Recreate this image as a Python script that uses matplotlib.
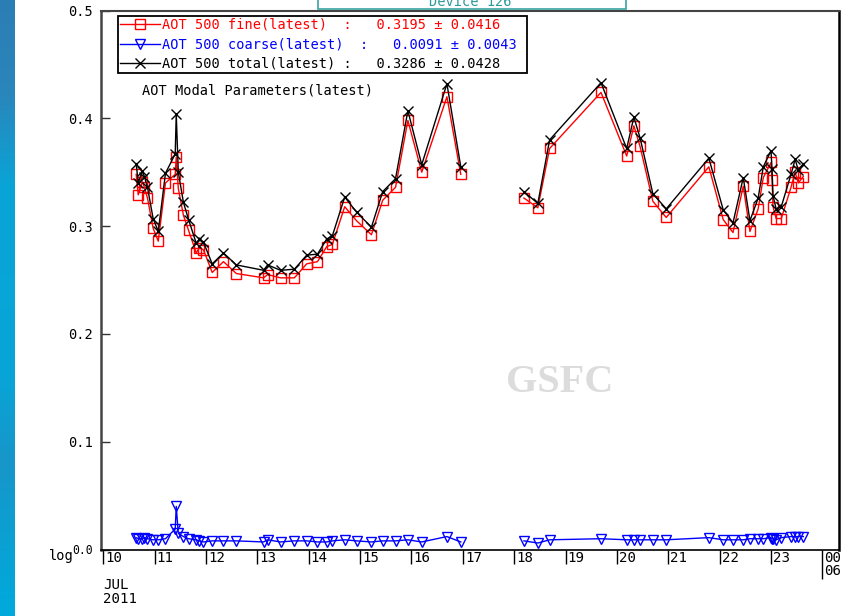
import numpy as np
import matplotlib
matplotlib.use("Agg")
import matplotlib.pyplot as plt
from matplotlib.colors import LinearSegmentedColormap
from matplotlib.patches import Rectangle

# ---- data: July 2011, day-of-month (fractional) ----
days = [10.64, 10.68, 10.76, 10.80, 10.86, 10.97, 11.07, 11.21, 11.40, 11.42,
        11.46, 11.56, 11.66, 11.81, 11.87, 11.95, 12.12, 12.34, 12.59, 13.12,
        13.20, 13.45, 13.72, 13.96, 14.17, 14.35, 14.46, 14.70, 14.93, 15.22,
        15.44, 15.69, 15.93, 16.20, 16.69, 16.96,
        18.19, 18.46, 18.69, 19.69, 20.19, 20.33, 20.45, 20.70, 20.96, 21.79,
        22.07, 22.26, 22.46, 22.59, 22.75, 22.85, 23.00, 23.02, 23.04, 23.10,
        23.20, 23.39, 23.47, 23.53, 23.63]

aot_fine = [0.348, 0.329, 0.341, 0.336, 0.326, 0.298, 0.286, 0.340, 0.348, 0.364,
            0.335, 0.310, 0.296, 0.275, 0.280, 0.278, 0.257, 0.267, 0.256, 0.252,
            0.255, 0.252, 0.252, 0.265, 0.267, 0.281, 0.283, 0.318, 0.305, 0.292,
            0.324, 0.336, 0.398, 0.350, 0.420, 0.348,
            0.326, 0.317, 0.372, 0.424, 0.365, 0.393, 0.374, 0.323, 0.308, 0.355,
            0.306, 0.294, 0.337, 0.295, 0.316, 0.345, 0.359, 0.343, 0.318, 0.307,
            0.307, 0.336, 0.350, 0.340, 0.346]

aot_coarse = [0.011, 0.010, 0.010, 0.011, 0.010, 0.009, 0.009, 0.010, 0.019, 0.040,
              0.015, 0.012, 0.010, 0.009, 0.008, 0.007, 0.008, 0.008, 0.008, 0.007,
              0.009, 0.007, 0.008, 0.008, 0.007, 0.007, 0.008, 0.009, 0.008, 0.007,
              0.008, 0.008, 0.009, 0.007, 0.012, 0.007,
              0.008, 0.006, 0.009, 0.010, 0.009, 0.009, 0.009, 0.009, 0.009, 0.011,
              0.009, 0.009, 0.009, 0.010, 0.010, 0.010, 0.011, 0.010, 0.010, 0.009,
              0.011, 0.012, 0.012, 0.012, 0.012]

aot_total = [0.358, 0.340, 0.351, 0.346, 0.336, 0.307, 0.295, 0.349, 0.367, 0.404,
             0.350, 0.322, 0.306, 0.284, 0.288, 0.285, 0.265, 0.275, 0.264, 0.259,
             0.264, 0.259, 0.260, 0.273, 0.274, 0.288, 0.291, 0.327, 0.313, 0.299,
             0.332, 0.344, 0.407, 0.357, 0.432, 0.355,
             0.332, 0.321, 0.380, 0.433, 0.372, 0.401, 0.382, 0.330, 0.316, 0.363,
             0.315, 0.303, 0.345, 0.305, 0.326, 0.355, 0.370, 0.353, 0.328, 0.316,
             0.318, 0.348, 0.362, 0.352, 0.358]

tick_days = list(range(10, 25))
tick_labels = [str(d) for d in range(10, 24)] + ["00\n06"]
y_ticks = [0.0, 0.1, 0.2, 0.3, 0.4, 0.5]
y_labels = ["0.0", "0.1", "0.2", "0.3", "0.4", "0.5"]

legend_labels = ["AOT 500 fine(latest)  :   0.3195 \u00b1 0.0416",
                 "AOT 500 coarse(latest)  :   0.0091 \u00b1 0.0043 ",
                 "AOT 500 total(latest) :   0.3286 \u00b1 0.0428"]

MONO = "DejaVu Sans Mono"
FS = 9.85
W, H = 852, 616


def with_gaps(x, y, max_gap=1.0):
    """Insert NaN between observations separated by more than max_gap days."""
    xs, ys = [x[0]], [y[0]]
    for i in range(1, len(x)):
        if x[i] - x[i - 1] > max_gap:
            xs.append(np.nan)
            ys.append(np.nan)
        xs.append(x[i])
        ys.append(y[i])
    return np.array(xs), np.array(ys)


fig = plt.figure(figsize=(W / 100, H / 100), dpi=100)
fig.patch.set_facecolor("white")

# decorative blue strip on the left edge
strip = fig.add_axes([0, 0, 15 / W, 1])
cmap = LinearSegmentedColormap.from_list(
    "strip", [(0.0, "#2c7eb4"), (0.15, "#2a86bb"), (0.3, "#0aa4d6"),
              (0.6, "#07a6d8"), (0.75, "#1796c9"), (1.0, "#00aadc")])
strip.imshow(np.linspace(0, 1, 256).reshape(-1, 1), aspect="auto", cmap=cmap)
strip.set_axis_off()

ax = fig.add_axes([101 / W, 1 - 549.5 / H, (839 - 101) / W, (549.5 - 10.5) / H])

x_f, y_f = with_gaps(days, aot_fine)
x_c, y_c = with_gaps(days, aot_coarse)
x_t, y_t = with_gaps(days, aot_total)

l_fine, = ax.plot(x_f, y_f, color="red", lw=1.0, marker="s", ms=7, mfc="none",
                  mec="red", mew=1.0, label=legend_labels[0])
l_coarse, = ax.plot(x_c, y_c, color="blue", lw=1.0, marker="v", ms=6.5, mfc="none",
                    mec="blue", mew=1.0, label=legend_labels[1])
l_total, = ax.plot(x_t, y_t, color="black", lw=1.0, marker="x", ms=7,
                   mew=1.0, label=legend_labels[2])

ax.set_xlim(9.955, 24.324)
ax.set_ylim(0, 0.5)

# axes frame
for side, col, lw in [("left", "#444444", 1.8), ("top", "#444444", 1.5),
                      ("right", "black", 1.8), ("bottom", "black", 1.2)]:
    ax.spines[side].set_color(col)
    ax.spines[side].set_linewidth(lw)

ax.set_yticks(y_ticks)
ax.set_yticklabels(y_labels, fontfamily=MONO, fontsize=FS)
ax.get_yticklabels()[0].set_fontsize(8.3)
ax.tick_params(axis="y", direction="in", length=6.5, width=1.0, pad=6,
               color="#333333")

ax.set_xticks(tick_days)
ax.set_xticklabels([])
ax.tick_params(axis="x", direction="out", length=10, width=1.0, color="black")
ax.xaxis.get_major_ticks()[-1].tick1line.set_markersize(21)
for d, lbl in zip(tick_days, tick_labels):
    ax.annotate(lbl, xy=(d, 0), xycoords=("data", "axes fraction"),
                xytext=(2, -1), textcoords="offset pixels", ha="left", va="top",
                fontfamily=MONO, fontsize=10.2, linespacing=0.95,
                annotation_clip=False)

leg = ax.legend(handles=[l_fine, l_coarse, l_total], loc="upper left",
                bbox_to_anchor=(0.023, 0.99), borderaxespad=0,
                prop={"family": MONO, "size": FS}, labelcolor=["red", "blue", "black"],
                frameon=True, fancybox=False, edgecolor="black", framealpha=1,
                handlelength=2.9, handletextpad=0.15, borderpad=0.15,
                labelspacing=0.4, markerscale=1.0)
leg.get_frame().set_linewidth(1.3)

# plot title inside axes
fig.text(142 / W, 1 - 90 / H, "AOT Modal Parameters(latest)", fontfamily=MONO,
         fontsize=FS, va="center", ha="left")

# month / year caption and axis-type marker
fig.text(103 / W, 1 - 592 / H, "JUL\n2011", fontfamily=MONO, fontsize=10.2,
         va="center", ha="left", linespacing=0.95)
fig.text(49 / W, 1 - 556 / H, "log", fontfamily=MONO, fontsize=FS,
         va="center", ha="left")

# watermark
fig.text(560 / W, 1 - 382 / H, "GSFC", fontfamily="Liberation Serif",
         fontweight="bold", fontsize=29, color="#dcdcdc", ha="center",
         va="center", zorder=0)

# header tab at the top edge
fig.patches.append(Rectangle((318 / W, 1 - 9 / H), (626 - 318) / W, 20 / H,
                             transform=fig.transFigure, facecolor="white",
                             edgecolor="#3aa3a3", linewidth=1.2, zorder=5))
fig.text(470 / W, 1 - 6 / H, "Device 126", fontfamily=MONO, fontsize=FS,
         color="#2a9a9a", ha="center", va="baseline", zorder=6)

fig.savefig("out.png", dpi=100, facecolor="white")
